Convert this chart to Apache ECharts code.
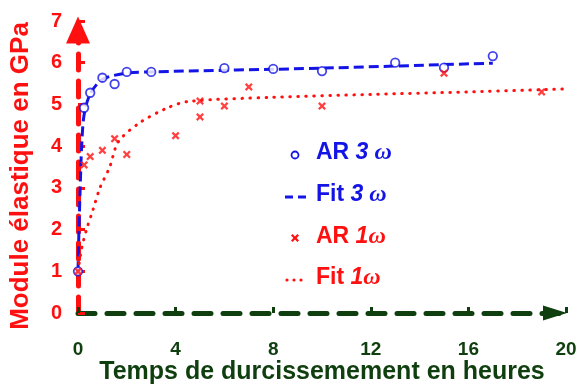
<!DOCTYPE html>
<html><head><meta charset="utf-8">
<script src="https://cdn.jsdelivr.net/npm/echarts@6/dist/echarts.min.js"></script>
<style>html,body{margin:0;padding:0;background:#fff}#c{width:577px;height:385px}</style>
</head><body><div id="c"></div>
<script>
var xTicks = [0, 4, 8, 12, 16, 20];
var yTicks = [0, 1, 2, 3, 4, 5, 6, 7];
var ar3X = [0, 0.25, 0.5, 1, 1.5, 2, 3, 6, 8, 10, 13, 15, 17];
var ar3Y = [1.0, 4.92, 5.28, 5.64, 5.49, 5.78, 5.78, 5.87, 5.85, 5.80, 6.0, 5.88, 6.16];
var fit3X = [0, 0.04, 0.09, 0.15, 0.25, 0.5, 1, 2, 3, 10, 17];
var fit3Y = [1.0, 2.0, 3.0, 4.0, 4.75, 5.25, 5.6, 5.75, 5.78, 5.87, 5.99];
var ar1X = [0, 0.25, 0.5, 1, 1.5, 2, 4, 5, 5, 6, 7, 10, 15, 19];
var ar1Y = [1.0, 3.55, 3.75, 3.9, 4.18, 3.8, 4.25, 5.08, 4.7, 4.96, 5.42, 4.96, 5.75, 5.3];
var fit1X = [0, 0.15, 0.35, 0.6, 0.9, 1.3, 1.65, 2.5, 3.6, 4.5, 8, 12, 16, 20];
var fit1Y = [1.0, 1.55, 2.0, 2.45, 3.0, 3.5, 4.1, 4.55, 4.9, 5.07, 5.17, 5.24, 5.3, 5.37];
var legendNames = ['AR', 'Fit', 'AR', 'Fit'];
var legendTags = ['3', '3', '1', '1'];

function zip(a, b) { return a.map(function (v, i) { return [v, b[i]]; }); }

var BLUE = '#1414e6', RED = '#ff1010', GREEN = '#0f3f0f';
var FONT = '"Liberation Sans", Arial, sans-serif';
var SERIF = '"Liberation Serif", "Times New Roman", serif';
var CROSS = 'path://M0,2L2,0L5,3L8,0L10,2L7,5L10,8L8,10L5,7L2,10L0,8L3,5Z';

var chart = echarts.init(document.getElementById('c'), null, {renderer: 'canvas'});

function legendText(i, color, top) {
  var sep = legendTags[i] === '3' ? ' ' : '';
  return {
    type: 'text', left: 316, top: top,
    style: {
      text: '{a|' + legendNames[i] + ' }{b|' + legendTags[i] + '}{c|' + sep + 'ω}',
      rich: {
        a: {fontFamily: FONT, fontWeight: 'bold', fontSize: 23, fill: color, color: color},
        b: {fontFamily: FONT, fontWeight: 'bold', fontStyle: 'italic', fontSize: 23, fill: color, color: color},
        c: {fontFamily: SERIF, fontWeight: 'bold', fontStyle: 'italic', fontSize: 24, fill: color, color: color}
      }
    }
  };
}

function crossPts(cx, cy, s) {
  var p = [[0,2],[2,0],[5,3],[8,0],[10,2],[7,5],[10,8],[8,10],[5,7],[2,10],[0,8],[3,5]];
  return p.map(function (q) { return [cx + (q[0] - 5) * s / 10, cy + (q[1] - 5) * s / 10]; });
}

chart.setOption({
  animation: false,
  grid: {left: 78, right: 11, top: 21, bottom: 72, containLabel: false, outerBoundsMode: 'none'},
  xAxis: {
    type: 'value', min: 0, max: 20, interval: 4,
    axisLine: {show: true, onZero: false, symbol: ['none', 'triangle'], symbolSize: [15, 24], symbolOffset: [0, -11],
      lineStyle: {color: GREEN, width: 5, type: [17, 12]}},
    axisTick: {show: true, inside: true, length: 6, lineStyle: {color: GREEN, width: 3}},
    axisLabel: {color: GREEN, fontFamily: FONT, fontWeight: 'bold', fontSize: 19, margin: 27,
      formatter: function (v) { return xTicks.indexOf(v) >= 0 ? String(v) : ''; }},
    splitLine: {show: false},
    name: 'Temps de durcissemement en heures', nameLocation: 'middle', nameGap: 47, nameMoveOverlap: false,
    nameTextStyle: {color: GREEN, fontFamily: FONT, fontWeight: 'bold', fontSize: 25}
  },
  yAxis: {
    type: 'value', min: 0, max: 7, interval: 1,
    axisLine: {show: true, onZero: false, symbol: ['none', 'triangle'], symbolSize: [24, 27], symbolOffset: [0, -9],
      lineStyle: {color: RED, width: 5, type: [16, 11]}},
    axisTick: {show: true, inside: true, length: 7, lineStyle: {color: RED, width: 3}},
    axisLabel: {color: RED, fontFamily: FONT, fontWeight: 'bold', fontSize: 20, margin: 16,
      formatter: function (v) { return yTicks.indexOf(v) >= 0 ? String(v) : ''; }},
    splitLine: {show: false},
    name: 'Module élastique en GPa', nameLocation: 'middle', nameGap: 44, nameMoveOverlap: false,
    nameTextStyle: {color: RED, fontFamily: FONT, fontWeight: 'bold', fontSize: 26, padding: [0, 18, 0, 0]}
  },
  series: [
    {name: 'Fit 3ω', type: 'line', data: zip(fit3X, fit3Y), showSymbol: false, smooth: 0.3, z: 3,
      lineStyle: {color: BLUE, width: 3, type: [10, 5]}},
    {name: 'Fit 1ω', type: 'line', data: zip(fit1X, fit1Y), showSymbol: false, smooth: 0.3, z: 3,
      lineStyle: {color: RED, width: 3, type: [0.5, 7.5], cap: 'round'}},
    {name: 'AR 3ω', type: 'scatter', data: zip(ar3X, ar3Y), symbol: 'circle', symbolSize: 8.5, z: 5,
      itemStyle: {color: '#fff', borderColor: BLUE, borderWidth: 1.8}},
    {name: 'AR 1ω', type: 'scatter', data: zip(ar1X, ar1Y), symbol: CROSS, symbolSize: 8, z: 5,
      itemStyle: {color: RED}}
  ],
  graphic: [
    {type: 'circle', shape: {cx: 295, cy: 155, r: 3.5}, style: {fill: '#fff', stroke: BLUE, lineWidth: 1.8}},
    {type: 'line', shape: {x1: 285, y1: 197, x2: 293, y2: 197}, style: {stroke: BLUE, lineWidth: 3}},
    {type: 'line', shape: {x1: 298, y1: 197, x2: 306, y2: 197}, style: {stroke: BLUE, lineWidth: 3}},
    {type: 'polygon', shape: {points: crossPts(295, 238, 8)}, style: {fill: RED}},
    {type: 'circle', shape: {cx: 287, cy: 280, r: 1.6}, style: {fill: RED}},
    {type: 'circle', shape: {cx: 294, cy: 280, r: 1.6}, style: {fill: RED}},
    {type: 'circle', shape: {cx: 301, cy: 280, r: 1.6}, style: {fill: RED}},
    legendText(0, BLUE, 141),
    legendText(1, BLUE, 183),
    legendText(2, RED, 225),
    legendText(3, RED, 266)
  ]
});
</script></body></html>
